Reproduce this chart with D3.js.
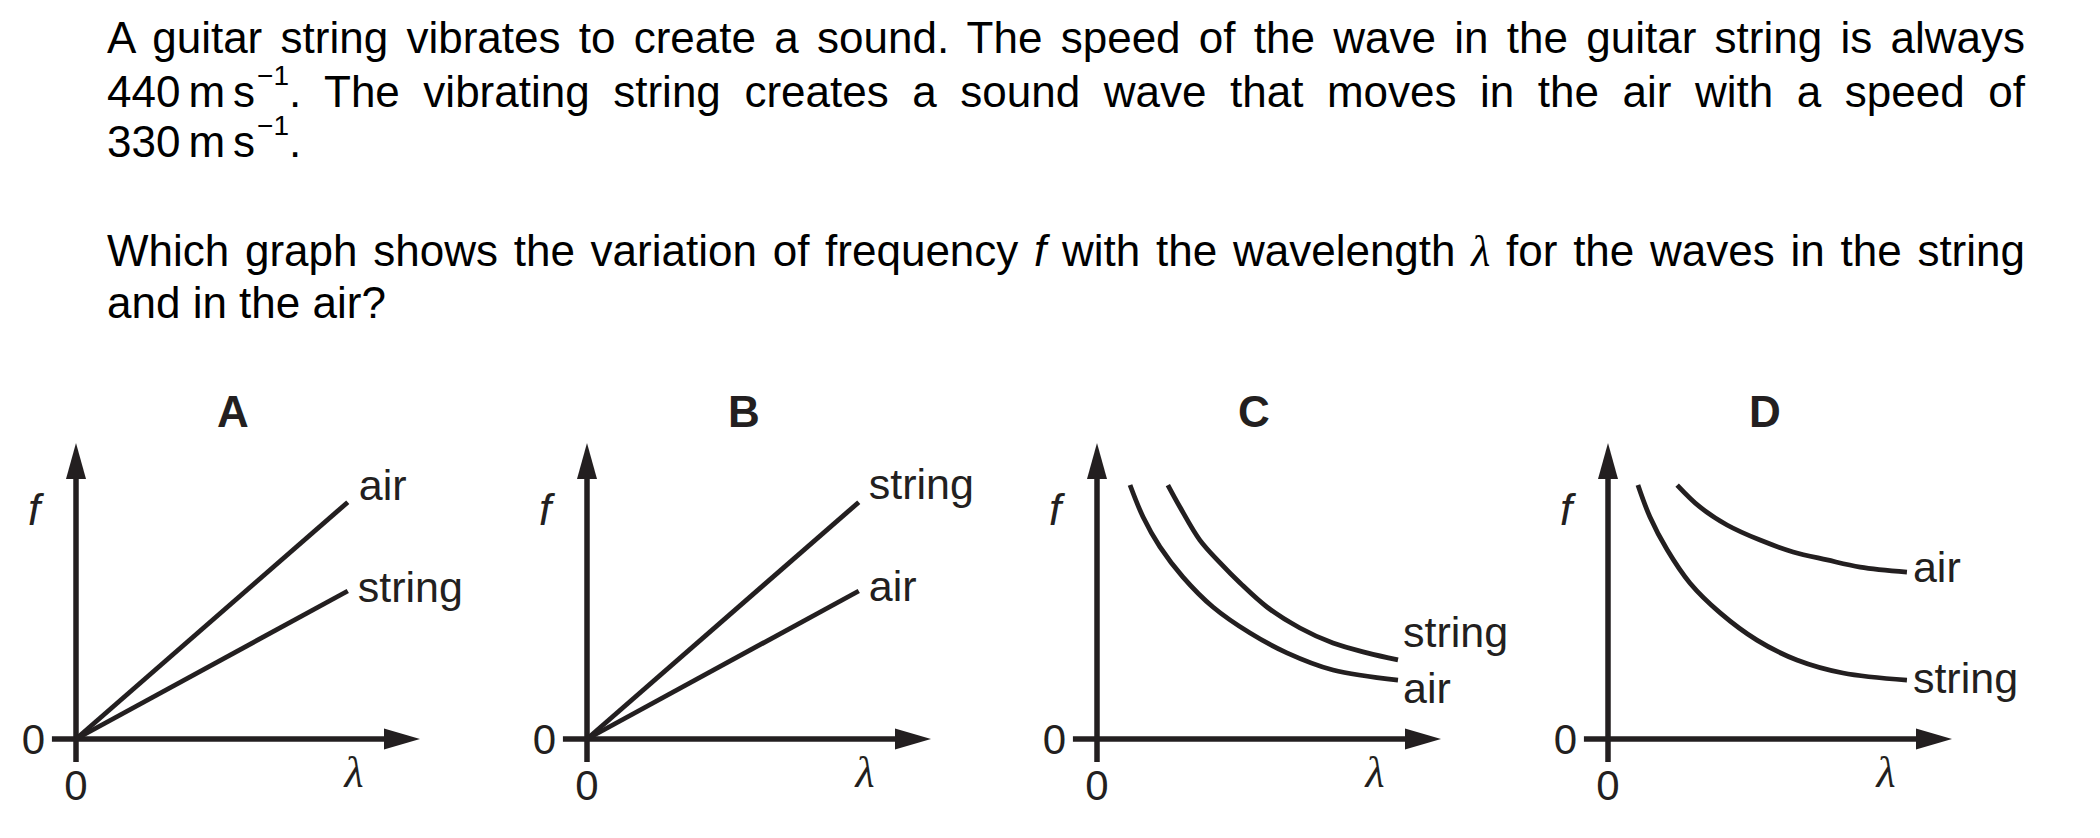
<!DOCTYPE html>
<html>
<head>
<meta charset="utf-8">
<script src="https://cdn.jsdelivr.net/npm/d3@7"></script>
<style>
  html, body { margin: 0; padding: 0; background: #ffffff; }
  svg { display: block; }
  text { white-space: pre; }
</style>
</head>
<body>
<script>
// ---------------- DATA ----------------
// Question text (segments: plain / italic f / greek lambda / superscript)
const questionLines1 = [
  [{t: "A guitar string vibrates to create a sound. The speed of the wave in the guitar string is always"}],
  [{t: "440"}, {t: "m", gap: 8}, {t: "s", gap: 8}, {t: "\u22121", sup: true}, {t: ". The vibrating string creates a sound wave that moves in the air with a speed of"}],
  [{t: "330"}, {t: "m", gap: 8}, {t: "s", gap: 8}, {t: "\u22121", sup: true}, {t: "."}]
];
const questionLines2 = [
  [{t: "Which graph shows the variation of frequency "}, {t: "f", it: true}, {t: " with the wavelength "}, {t: "\u03BB", greek: true}, {t: " for the waves in the string"}],
  [{t: "and in the air?"}]
];

// Graph option letters and axis texts
const panelLetters = ["A", "B", "C", "D"];
const tickLabels = ["0"];
const yAxisLabel = "f";
const xAxisLabel = "\u03BB";

// Series (x = wavelength, y = frequency), arbitrary units 0..10
const lineA_air    = [[0, 0], [7.9, 8.0]];
const lineA_string = [[0, 0], [7.9, 5.0]];
const lineB_string = [[0, 0], [7.9, 8.0]];
const lineB_air    = [[0, 0], [7.9, 5.0]];

const curveC_string = [[2.06, 8.58], [2.41, 7.84], [2.99, 6.72], [3.58, 5.95], [4.16, 5.27], [4.94, 4.46], [5.90, 3.75], [6.86, 3.24], [7.85, 2.91], [8.75, 2.67]];
const curveC_air    = [[0.96, 8.58], [1.34, 7.50], [1.83, 6.49], [2.50, 5.47], [3.37, 4.46], [4.45, 3.58], [5.52, 2.91], [6.86, 2.33], [8.75, 1.99]];
const curveD_air    = [[2.01, 8.58], [2.67, 7.84], [3.46, 7.23], [4.42, 6.72], [5.38, 6.32], [6.37, 6.05], [7.33, 5.81], [8.69, 5.64]];
const curveD_string = [[0.87, 8.58], [1.22, 7.50], [1.72, 6.39], [2.38, 5.27], [3.26, 4.26], [4.33, 3.34], [5.49, 2.67], [6.83, 2.23], [8.69, 1.99]];

const panelSeries = [
  [{name: "air", pts: lineA_air}, {name: "string", pts: lineA_string}],
  [{name: "string", pts: lineB_string}, {name: "air", pts: lineB_air}],
  [{name: "string", pts: curveC_string}, {name: "air", pts: curveC_air}],
  [{name: "air", pts: curveD_air}, {name: "string", pts: curveD_string}]
];

// ---------------- LAYOUT / STYLE ----------------
const W = 2100, H = 838;
const INK = "#231f20";
const SANS = "'Liberation Sans', Arial, Helvetica, sans-serif";
const SERIF = "'Liberation Serif', 'Times New Roman', serif";
const textLeft = 107, textRight = 2025;
const lineYs1 = [53, 107, 157];
const lineYs2 = [266, 318];
const justify1 = [true, true, false];
const justify2 = [true, false];

const originY = 739;
const originXs = [76, 587, 1097, 1608];
const axisLenX = 344, axisTopY = 443;
// label offsets (dx, dy) from each series end point
const labelOffsets = [
  [[11, -2], [10, 11]],
  [[10, -3], [10, 10]],
  [[5, -13], [5, 23]],
  [[6, 10], [6, 13]]
];

const svg = d3.select("body").append("svg")
  .attr("width", W).attr("height", H)
  .attr("viewBox", `0 0 ${W} ${H}`);

// ---------------- QUESTION TEXT ----------------
const SUP_DX = 2;
function drawTextLine(segs, y, justify) {
  const t = svg.append("text")
    .attr("x", textLeft).attr("y", y)
    .attr("font-family", SANS).attr("font-size", 44).attr("fill", "#000");
  let raised = false;
  let extra = 0;
  segs.forEach(s => {
    const ts = t.append("tspan").text(s.t);
    if (s.gap) { ts.attr("dx", s.gap); extra += s.gap; }
    if (s.sup) {
      ts.attr("dy", -22).attr("font-size", 28).attr("dx", SUP_DX);
      extra += SUP_DX;
      raised = true;
    } else if (raised) {
      ts.attr("dy", 22);
      raised = false;
    }
    if (s.it) ts.attr("font-style", "italic");
    if (s.greek) ts.attr("font-family", SERIF).attr("font-style", "italic");
  });
  if (justify) {
    const len = t.node().getComputedTextLength();
    const nSpaces = segs.map(s => (s.t.match(/ /g) || []).length).reduce((a, b) => a + b, 0);
    const ws = (textRight - textLeft - len - extra) / nSpaces;
    t.style("word-spacing", ws + "px");
  }
}
questionLines1.forEach((l, i) => drawTextLine(l, lineYs1[i], justify1[i]));
questionLines2.forEach((l, i) => drawTextLine(l, lineYs2[i], justify2[i]));

// ---------------- GRAPHS ----------------
panelLetters.forEach((letter, i) => {
  const ox = originXs[i];
  const x = d3.scaleLinear().domain([0, 10]).range([ox, ox + axisLenX]);
  const y = d3.scaleLinear().domain([0, 10]).range([originY, axisTopY]);
  const g = svg.append("g");

  // title letter
  g.append("text")
    .attr("x", x(4.56)).attr("y", 427)
    .attr("text-anchor", "middle")
    .attr("font-family", SANS).attr("font-weight", "bold").attr("font-size", 44)
    .attr("fill", INK).text(letter);

  // axes lines
  const arrowLen = 36, arrowHalf = 10;
  g.append("line")
    .attr("x1", x(0)).attr("x2", x(0))
    .attr("y1", y(-0.78)).attr("y2", y(10) + arrowLen - 2)
    .attr("stroke", INK).attr("stroke-width", 5.5);
  g.append("line")
    .attr("x1", x(-0.7)).attr("x2", x(10) - arrowLen + 2)
    .attr("y1", y(0)).attr("y2", y(0))
    .attr("stroke", INK).attr("stroke-width", 5.5);
  // arrowheads
  g.append("path")
    .attr("d", `M${x(0)},${y(10)} L${x(0) - arrowHalf},${y(10) + arrowLen} L${x(0) + arrowHalf},${y(10) + arrowLen} Z`)
    .attr("fill", INK);
  g.append("path")
    .attr("d", `M${x(10)},${y(0)} L${x(10) - arrowLen},${y(0) - arrowHalf - 0.5} L${x(10) - arrowLen},${y(0) + arrowHalf + 0.5} Z`)
    .attr("fill", INK);

  // zero labels
  g.append("text")
    .attr("x", x(0) - 31).attr("y", y(0) + 15)
    .attr("text-anchor", "end")
    .attr("font-family", SANS).attr("font-size", 42).attr("fill", INK)
    .text(tickLabels[0]);
  g.append("text")
    .attr("x", x(0)).attr("y", y(0) + 61)
    .attr("text-anchor", "middle")
    .attr("font-family", SANS).attr("font-size", 42).attr("fill", INK)
    .text(tickLabels[0]);

  // axis name labels
  g.append("text")
    .attr("x", x(0) - 42).attr("y", 525)
    .attr("text-anchor", "middle")
    .attr("font-family", SANS).attr("font-style", "italic").attr("font-size", 44).attr("fill", INK)
    .text(yAxisLabel);
  g.append("text")
    .attr("x", x(0) + 278).attr("y", y(0) + 48)
    .attr("text-anchor", "middle")
    .attr("font-family", SERIF).attr("font-style", "italic").attr("font-size", 44).attr("fill", INK)
    .text(xAxisLabel);

  // series
  const lineGen = d3.line()
    .x(d => x(d[0])).y(d => y(d[1]))
    .curve(d3.curveCatmullRom.alpha(0.5));
  panelSeries[i].forEach((s, j) => {
    g.append("path")
      .attr("d", lineGen(s.pts))
      .attr("fill", "none").attr("stroke", INK)
      .attr("stroke-width", 4.8).attr("stroke-linecap", "butt");
    const end = s.pts[s.pts.length - 1];
    const off = labelOffsets[i][j];
    g.append("text")
      .attr("x", x(end[0]) + off[0]).attr("y", y(end[1]) + off[1])
      .attr("font-family", SANS).attr("font-size", 43).attr("fill", INK)
      .text(s.name);
  });
});
</script>
</body>
</html>
